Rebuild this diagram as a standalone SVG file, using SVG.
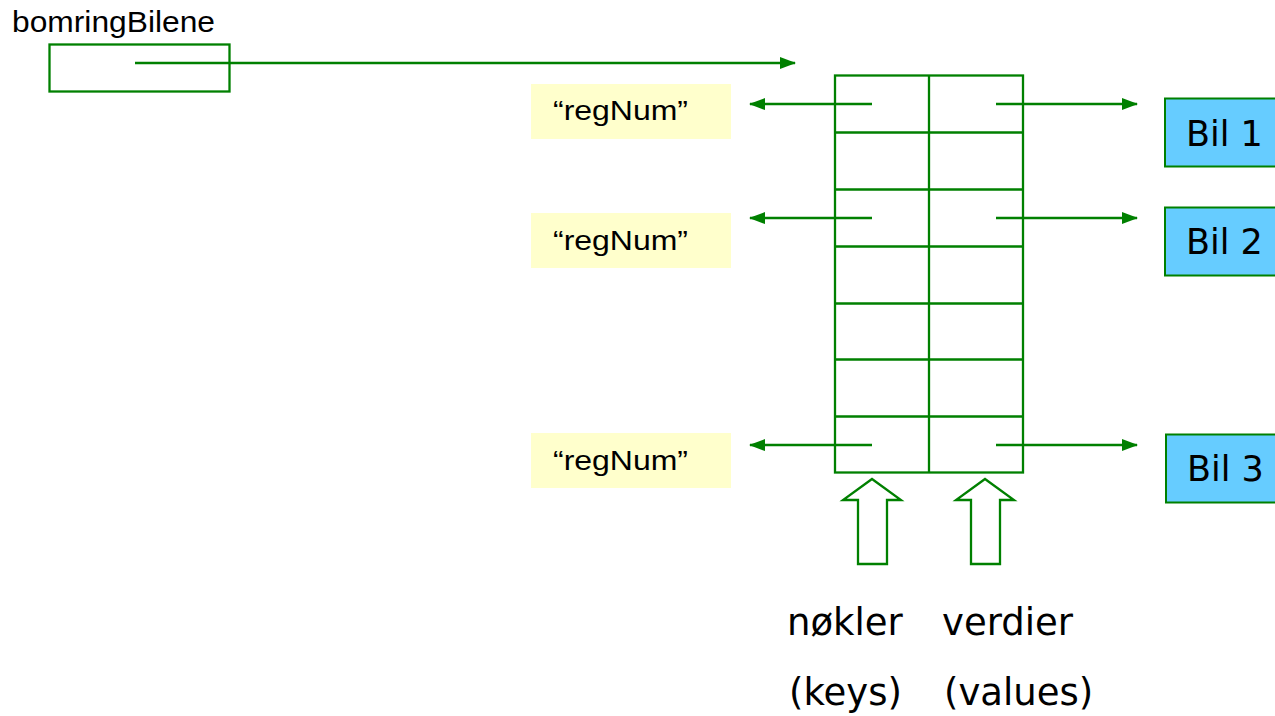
<svg xmlns="http://www.w3.org/2000/svg" width="1275" height="716" viewBox="0 0 1275 716">
<style>
.g{stroke:#008000;stroke-width:2.3;fill:none}
.y{fill:#FFFFCC}
.b{fill:#66CCFF;stroke:#008000;stroke-width:2}
.t{font-family:"Liberation Sans",Arial,sans-serif;fill:#000}
.v{font-family:"DejaVu Sans",Verdana,sans-serif;fill:#000}
</style>
<defs>
<marker id="ah" markerWidth="16" markerHeight="12" refX="15" refY="6" orient="auto" markerUnits="userSpaceOnUse">
<path d="M0,0 L16,6 L0,12 Z" fill="#008000"/>
</marker>
</defs>
<rect width="1275" height="716" fill="#fff"/>
<g id="bomringBilene">
<text class="t" x="12" y="32" font-size="29" textLength="203" lengthAdjust="spacingAndGlyphs">bomringBilene</text>
<rect class="g" x="49.5" y="44.5" width="180" height="47"/>
</g>
<g id="table">
<rect class="g" x="835" y="75.5" width="188" height="397"/>
<line class="g" x1="929" y1="75" x2="929" y2="472"/>
<path class="g" d="M835 132.5H1023M835 189.5H1023M835 246.5H1023M835 303.5H1023M835 359.5H1023M835 416.5H1023"/>
</g>
<g id="key1"><rect class="y" x="531" y="84" width="200" height="55"/><text class="t" x="553" y="120" font-size="28" textLength="135" lengthAdjust="spacingAndGlyphs">“regNum”</text></g>
<g id="key2"><rect class="y" x="531" y="213" width="200" height="55"/><text class="t" x="553" y="250" font-size="28" textLength="135" lengthAdjust="spacingAndGlyphs">“regNum”</text></g>
<g id="key3"><rect class="y" x="531" y="433" width="200" height="55"/><text class="t" x="553" y="470" font-size="28" textLength="135" lengthAdjust="spacingAndGlyphs">“regNum”</text></g>
<g id="bil1"><rect class="b" x="1165" y="98.5" width="115" height="68"/><text class="v" x="1186" y="146" font-size="35">Bil 1</text></g>
<g id="bil2"><rect class="b" x="1165" y="207.5" width="115" height="68"/><text class="v" x="1186" y="254" font-size="35">Bil 2</text></g>
<g id="bil3"><rect class="b" x="1166" y="434.5" width="115" height="68"/><text class="v" x="1187" y="481" font-size="35">Bil 3</text></g>
<g id="keysArrow"><path class="g" d="M872 479L901 500H887V564H858V500H843Z"/></g>
<g id="valuesArrow"><path class="g" d="M985 479L1014 500H1000V564H971V500H956Z"/></g>
<g id="labels">
<text class="v" x="787" y="635" font-size="37">nøkler</text>
<text class="v" x="942" y="635" font-size="37">verdier</text>
<text class="v" x="789" y="705" font-size="37">(keys)</text>
<text class="v" x="944" y="705" font-size="37">(values)</text>
</g>
<g id="connectors">
<line class="g" x1="135" y1="63" x2="795" y2="63" marker-end="url(#ah)"/>
<line class="g" x1="872" y1="104" x2="750" y2="104" marker-end="url(#ah)"/>
<line class="g" x1="872" y1="218" x2="750" y2="218" marker-end="url(#ah)"/>
<line class="g" x1="872" y1="445" x2="750" y2="445" marker-end="url(#ah)"/>
<line class="g" x1="996" y1="104" x2="1137" y2="104" marker-end="url(#ah)"/>
<line class="g" x1="996" y1="218" x2="1137" y2="218" marker-end="url(#ah)"/>
<line class="g" x1="996" y1="445" x2="1137" y2="445" marker-end="url(#ah)"/>
</g>
</svg>
